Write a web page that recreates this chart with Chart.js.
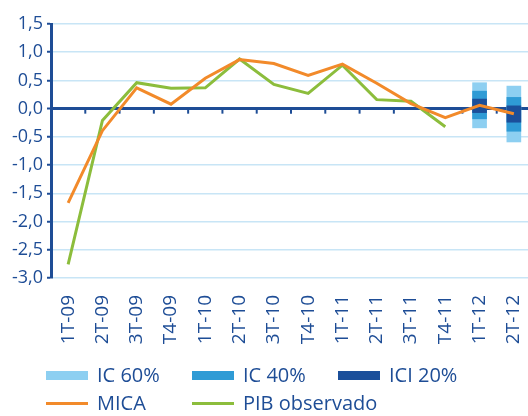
<!DOCTYPE html>
<html>
<head>
<meta charset="utf-8">
<script src="https://cdn.jsdelivr.net/npm/chart.js@4/dist/chart.umd.min.js"></script>
<style>
  body { margin: 0; background: #fff; }
  #wrap { position: relative; width: 528px; height: 416px; overflow: hidden; }
  #box { position: absolute; left: 0; top: 0; width: 531px; height: 416px; }
  .lg { position: absolute; font-family: "Open Sans", sans-serif; font-size: 20px; line-height: 20px; color: #1e4d96; white-space: nowrap; }
  .sw { position: absolute; width: 42px; }
</style>
</head>
<body>
<div id="wrap">
  <div id="box"><canvas id="chart"></canvas></div>
  <div id="legend"></div>
</div>
<script>
// datos
var labels = ['1T-09', '2T-09', '3T-09', 'T4-09', '1T-10', '2T-10', '3T-10', 'T4-10', '1T-11', '2T-11', '3T-11', 'T4-11', '1T-12', '2T-12'];
var mica = [-1.67, -0.39, 0.37, 0.08, 0.54, 0.87, 0.80, 0.59, 0.79, 0.45, 0.09, -0.16, 0.06, -0.09];
var pib = [-2.76, -0.21, 0.46, 0.36, 0.37, 0.88, 0.43, 0.27, 0.77, 0.16, 0.13, -0.32, null, null];
var ic60 = [null, null, null, null, null, null, null, null, null, null, null, null, [-0.34, 0.46], [-0.59, 0.40]];
var ic40 = [null, null, null, null, null, null, null, null, null, null, null, null, [-0.18, 0.31], [-0.40, 0.20]];
var ici20 = [null, null, null, null, null, null, null, null, null, null, null, null, [-0.07, 0.17], [-0.24, 0.05]];

var blue = '#1e4d96';
var gridBlue = '#c8e5f6';
var font = { family: '"Open Sans", sans-serif', size: 18 };

// marcas pequeñas sobre el eje cero
var zeroTicks = {
    id: 'zeroTicks',
    beforeDatasetsDraw: function (chart) {
        var x = chart.scales.x, y = chart.scales.y;
        var y0 = y.getPixelForValue(0);
        var ctx = chart.ctx;
        ctx.save();
        ctx.strokeStyle = blue;
        ctx.lineWidth = 2;
        for (var i = 1; i < labels.length; i++) {
            var px = (x.getPixelForValue(i - 1) + x.getPixelForValue(i)) / 2;
            ctx.beginPath();
            ctx.moveTo(px, y0);
            ctx.lineTo(px, y0 + 5);
            ctx.stroke();
        }
        ctx.restore();
    }
};

var bar = function (label, data, color, order) {
    return { type: 'bar', label: label, data: data, backgroundColor: color, barThickness: 14, grouped: false, order: order };
};

new Chart(document.getElementById('chart'), {
    type: 'bar',
    data: {
        labels: labels,
        datasets: [
            { type: 'line', label: 'MICA', data: mica, borderColor: '#f28a2a', borderWidth: 3, pointRadius: 0, tension: 0, order: 0 },
            { type: 'line', label: 'PIB observado', data: pib, borderColor: '#8cbd3c', borderWidth: 3, pointRadius: 0, tension: 0, order: 0 },
            bar('ICI 20%', ici20, '#1b4f9a', 1),
            bar('IC 40%', ic40, '#2f9bd5', 2),
            bar('IC 60%', ic60, '#8dcff1', 3)
        ]
    },
    options: {
        responsive: true,
        maintainAspectRatio: false,
        animation: false,
        layout: { padding: { top: 24, left: 0, right: 0, bottom: 0 } },
        plugins: { legend: { display: false }, tooltip: { enabled: false } },
        scales: {
            x: {
                offset: true,
                grid: { display: false },
                border: { display: false },
                ticks: { color: blue, font: { family: font.family, size: 19 }, minRotation: 90, maxRotation: 90, padding: 9, autoSkip: false },
                afterFit: function (s) { s.height = 138; s.paddingLeft = 0; s.paddingRight = 0; }
            },
            y: {
                min: -3, max: 1.5,
                border: { color: blue, width: 3 },
                grid: {
                    color: function (c) { return c.tick && c.tick.value === 0 ? blue : gridBlue; },
                    lineWidth: function (c) { return c.tick && c.tick.value === 0 ? 3 : 1.5; },
                    tickColor: blue, tickWidth: 2, tickLength: 4
                },
                ticks: {
                    color: blue, font: font, stepSize: 0.5, padding: 4,
                    callback: function (v) { return v.toFixed(1).replace('.', ','); }
                },
                afterFit: function (s) { s.width = 51; }
            }
        }
    },
    plugins: [zeroTicks]
});

// leyenda
var legendItems = [
    { text: 'IC 60%', color: '#8dcff1', x: 46, y: 375, h: 9 },
    { text: 'IC 40%', color: '#2f9bd5', x: 192, y: 375, h: 9 },
    { text: 'ICI 20%', color: '#1b4f9a', x: 338, y: 375, h: 9 },
    { text: 'MICA', color: '#f28a2a', x: 46, y: 403, h: 3 },
    { text: 'PIB observado', color: '#8cbd3c', x: 192, y: 403, h: 3 }
];
var lg = document.getElementById('legend');
legendItems.forEach(function (it) {
    var sw = document.createElement('div');
    sw.className = 'sw';
    sw.style.left = it.x + 'px';
    sw.style.top = (it.y - it.h / 2) + 'px';
    sw.style.height = it.h + 'px';
    sw.style.background = it.color;
    lg.appendChild(sw);
    var t = document.createElement('div');
    t.className = 'lg';
    t.style.left = (it.x + 51) + 'px';
    t.style.top = (it.y - 10) + 'px';
    t.textContent = it.text;
    lg.appendChild(t);
});
</script>
</body>
</html>
